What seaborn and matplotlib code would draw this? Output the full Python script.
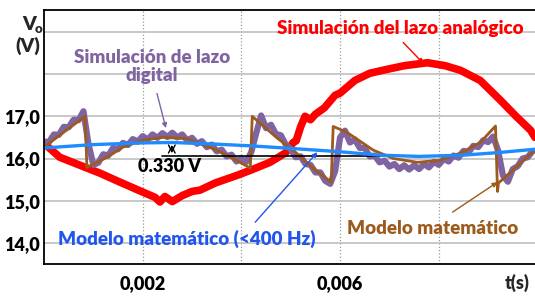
import numpy as np
import matplotlib
matplotlib.use('Agg')
import matplotlib.pyplot as plt
import seaborn as sns

# ---- data ----
# analog loop simulation (red)
red_t = [0.0, 0.00032, 0.00073, 0.00114, 0.00154, 0.00201, 0.00225, 0.00235, 0.00245,
         0.0026, 0.0028, 0.003, 0.00316, 0.00347, 0.00391, 0.00418, 0.00458, 0.00489,
         0.00505, 0.00511, 0.0052, 0.00529, 0.0054, 0.0055, 0.00568, 0.0059, 0.006,
         0.0063, 0.0066, 0.0069, 0.0073, 0.00777, 0.00813, 0.00844, 0.00884, 0.00925,
         0.00955, 0.00986, 0.00995]
red_v = [16.36, 16.03, 15.84, 15.65, 15.44, 15.2, 15.08, 14.97, 15.1,
         14.98, 15.12, 15.22, 15.25, 15.42, 15.6, 15.72, 15.91, 16.13,
         16.38, 16.42, 16.75, 17.0, 16.92, 17.05, 17.2, 17.5, 17.55,
         17.85, 18.02, 18.1, 18.2, 18.27, 18.2, 18.09, 17.85, 17.38,
         17.02, 16.67, 16.5]

# digital loop simulation (purple), sampled every 0.1 ms
purple_t = np.linspace(0.0, 0.0099, 100)
purple_v = [16.40, 16.39, 16.57, 16.56, 16.75, 16.74, 16.92, 16.91, 17.12, 16.35,
            15.85, 15.90, 16.10, 16.07, 16.25, 16.22, 16.37, 16.32, 16.46, 16.40,
            16.53, 16.45, 16.57, 16.49, 16.60, 16.51, 16.61, 16.50, 16.57, 16.43,
            16.49, 16.35, 16.41, 16.27, 16.33, 16.17, 16.21, 16.05, 16.09, 15.93,
            16.00, 15.92, 16.15, 16.60, 17.02, 16.72, 16.80, 16.58, 16.55, 16.33,
            16.22, 16.03, 16.05, 15.87, 15.85, 15.67, 15.67, 15.47, 15.40, 15.70,
            16.50, 16.66, 16.38, 16.45, 16.25, 16.25, 16.05, 16.07, 15.91, 15.95,
            15.81, 15.87, 15.75, 15.84, 15.74, 15.84, 15.75, 15.87, 15.79, 15.92,
            15.85, 15.99, 15.93, 16.07, 16.02, 16.18, 16.14, 16.30, 16.27, 16.43,
            16.39, 16.52, 16.20, 15.60, 15.45, 15.75, 15.82, 16.00, 16.03, 16.17]

# mathematical model (brown)
brown_t = [0.0, 0.00083, 0.00087, 0.00128, 0.0016, 0.002, 0.0024, 0.0029, 0.0035,
           0.0039, 0.00418, 0.00422, 0.00473, 0.00505, 0.00538, 0.00582, 0.00586,
           0.00614, 0.00667, 0.00708, 0.00757, 0.00803, 0.00844, 0.00884, 0.00915,
           0.00919, 0.00921, 0.00995]
brown_v = [16.27, 17.0, 15.79, 16.03, 16.27, 16.43, 16.5, 16.47, 16.2,
           15.96, 15.77, 17.0, 16.48, 16.2, 15.84, 15.44, 16.76,
           16.62, 16.2, 16.0, 15.91, 15.96, 16.13, 16.38, 16.77,
           15.22, 15.42, 16.2]

# mathematical model < 400 Hz (blue)
blue_t = [0.0, 0.001, 0.002, 0.0026, 0.0035, 0.0042, 0.005, 0.006, 0.0068, 0.0076,
          0.0085, 0.0092, 0.00995]
blue_v = [16.25, 16.33, 16.37, 16.38, 16.34, 16.3, 16.24, 16.16, 16.08, 16.05,
          16.08, 16.14, 16.22]

# ripple measurement
ref_t = [0.0024, 0.0075]
ref_v = [16.06, 16.06]
ripple_top = 16.39

y_ticks = [14, 15, 16, 17, 18, 19]
y_labels = ['14,0', '15,0', '16,0', '17,0', '', '']
x_ticks = [0.002, 0.004, 0.006, 0.008]
x_labels = ['0,002', '', '0,006', '']

RED = '#ff0000'
PURPLE = '#8064a2'
BROWN = '#9c5a1c'
BLUE = '#1e8cff'
BLUE_TXT = '#2255ee'
W = 'heavy'

sns.set_theme(style='white')
plt.rcParams['font.family'] = ['Lato', 'DejaVu Sans']

fig = plt.figure(figsize=(5.35, 2.98), dpi=100)
ax = fig.add_axes([44 / 535, 34 / 298, 491 / 535, 254 / 298])

sns.lineplot(x=red_t, y=red_v, ax=ax, color=RED, lw=5.5, estimator=None, sort=False)
sns.lineplot(x=purple_t, y=purple_v, ax=ax, color=PURPLE, lw=4.5, estimator=None, sort=False)
sns.lineplot(x=brown_t, y=brown_v, ax=ax, color=BROWN, lw=2, estimator=None, sort=False)
sns.lineplot(x=ref_t, y=ref_v, ax=ax, color='black', lw=1.2, estimator=None, sort=False)
sns.lineplot(x=blue_t, y=blue_v, ax=ax, color=BLUE, lw=2.4, estimator=None, sort=False)

ax.set_xlim(0, 0.00995)
ax.set_ylim(13.5, 19.52)
ax.set_xticks(x_ticks)
ax.set_xticklabels(x_labels)
ax.set_yticks(y_ticks)
ax.set_yticklabels(y_labels)
ax.tick_params(length=0, labelsize=13, colors='black')
ax.tick_params(axis='x', pad=8)
ax.tick_params(axis='y', pad=3)
for lab in ax.get_xticklabels() + ax.get_yticklabels():
    lab.set_fontweight(W)
ax.set_xlabel('')
ax.set_ylabel('')

ax.xaxis.grid(True, ls=':', color='#999999', lw=0.9)
ax.yaxis.grid(True, ls='-', color='#c4c4c4', lw=1.3)
ax.set_axisbelow(True)
for side in ['left', 'bottom', 'top']:
    ax.spines[side].set_color('black')
    ax.spines[side].set_linewidth(1.3)
ax.spines['right'].set_visible(False)

# ripple arrow and label
ax.annotate('', xy=(0.00259, ripple_top), xytext=(0.00259, ref_v[0]),
            arrowprops=dict(arrowstyle='<->', color='black', lw=1.0))
ax.text(0.00191, 15.82, '0.330 V', fontsize=13, fontweight=W, color='black',
        ha='left', va='center')

# annotation labels
ax.text(0.00722, 19.08, 'Simulación del lazo analógico', color=RED, fontsize=13.5,
        fontweight=W, ha='center', va='center')
ax.text(0.00219, 18.18, 'Simulación de lazo\ndigital', color=PURPLE, fontsize=13.5,
        fontweight=W, ha='center', va='center', linespacing=1.05)
ax.text(0.0029, 14.09, 'Modelo matemático (<400 Hz)', color=BLUE_TXT, fontsize=13.5,
        fontweight=W, ha='center', va='center')
ax.text(0.00787, 14.33, 'Modelo matemático', color=BROWN, fontsize=13.5,
        fontweight=W, ha='center', va='center')

# annotation arrows
arrow = dict(arrowstyle='-|>', lw=1.0, mutation_scale=7, shrinkA=0, shrinkB=0)
ax.annotate('', xy=(0.00769, 18.25), xytext=(0.00728, 18.75), arrowprops=dict(arrow, color=RED))
ax.annotate('', xy=(0.00247, 16.72), xytext=(0.00229, 17.54), arrowprops=dict(arrow, color=PURPLE))
ax.annotate('', xy=(0.00554, 16.15), xytext=(0.00428, 14.49), arrowprops=dict(arrow, color=BLUE_TXT))
ax.annotate('', xy=(0.00919, 15.44), xytext=(0.00828, 14.73), arrowprops=dict(arrow, color=BROWN))

# axis labels placed like the original
fig.text(22 / 535, 1 - 24 / 298, 'V', fontsize=14, fontweight=W, ha='left', va='center')
fig.text(35 / 535, 1 - 29 / 298, 'o', fontsize=9.5, fontweight=W, ha='left', va='center')
fig.text(28 / 535, 1 - 46 / 298, '(V)', fontsize=14, fontweight=W, ha='center', va='center')
fig.text(517 / 535, 1 - 283 / 298, 't(s)', fontsize=13, fontweight=W, ha='center', va='center')

fig.savefig('out.png', dpi=100)
